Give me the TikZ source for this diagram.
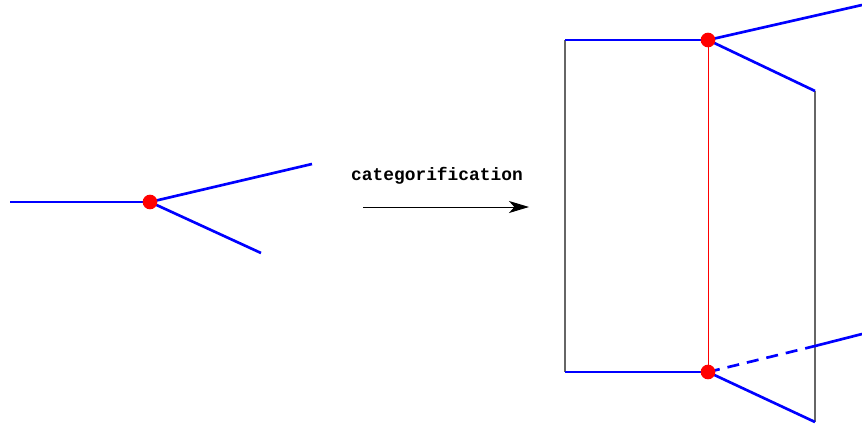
\documentclass[tikz,border=0pt]{standalone}
\usepackage{fontspec}
\newfontfamily\catfont{Liberation Mono}
\usetikzlibrary{arrows.meta}

\begin{document}
\begin{tikzpicture}[
  x=0.75pt, y=-0.75pt,
  edge/.style={blue, line width=2pt},
  seam/.style={red, line width=0.75pt},
  wall/.style={draw=black!60, line width=0.8pt},
  vertex/.style={circle, fill=red, inner sep=0pt, minimum size=11pt},
  arr/.style={-{Stealth[length=15pt, width=9pt, inset=4pt]}, line width=0.75pt}
]
\useasboundingbox (0,0) rectangle (862,425);

% the trivalent vertex
\coordinate (l0) at (150,202);
\coordinate (lin) at (10,202);
\coordinate (lup) at (312,164);
\coordinate (ldn) at (261,253);
\draw[edge] (lin) -- (l0);
\draw[edge] (l0) -- (lup);
\draw[edge] (l0) -- (ldn);
\node[vertex] (ldot) at (l0) {};

% the label and the arrow
\node[font={\catfont\bfseries\fontsize{13.4}{16}\selectfont}] (lab) at (437,176) {categorification};
\coordinate (as) at (363,207);
\coordinate (ae) at (529,207);
\draw[arr] (as) -- (ae);

% the foam
\coordinate (tl) at (565,40);
\coordinate (bl) at (565,372);
\coordinate (t0) at (708,40);
\coordinate (b0) at (708,372);
\coordinate (tup) at (862,5);
\coordinate (tdn) at (815,91);
\coordinate (bdn) at (815,422);
\coordinate (bmid) at (815,346);
\coordinate (bup) at (862,334);
\draw[wall] (tl) -- (bl);
\draw[wall] (tdn) -- (bdn);
\draw[seam] (t0) -- (b0);
\draw[edge] (tl) -- (t0);
\draw[edge] (bl) -- (b0);
\draw[edge] (t0) -- (tup);
\draw[edge] (t0) -- (tdn);
\draw[edge] (b0) -- (bdn);
\draw[edge, dash pattern=on 9pt off 6pt] (b0) -- (bmid);
\draw[edge] (bmid) -- (bup);
\node[vertex] (tdot) at (t0) {};
\node[vertex] (bdot) at (b0) {};
\end{tikzpicture}
\end{document}
